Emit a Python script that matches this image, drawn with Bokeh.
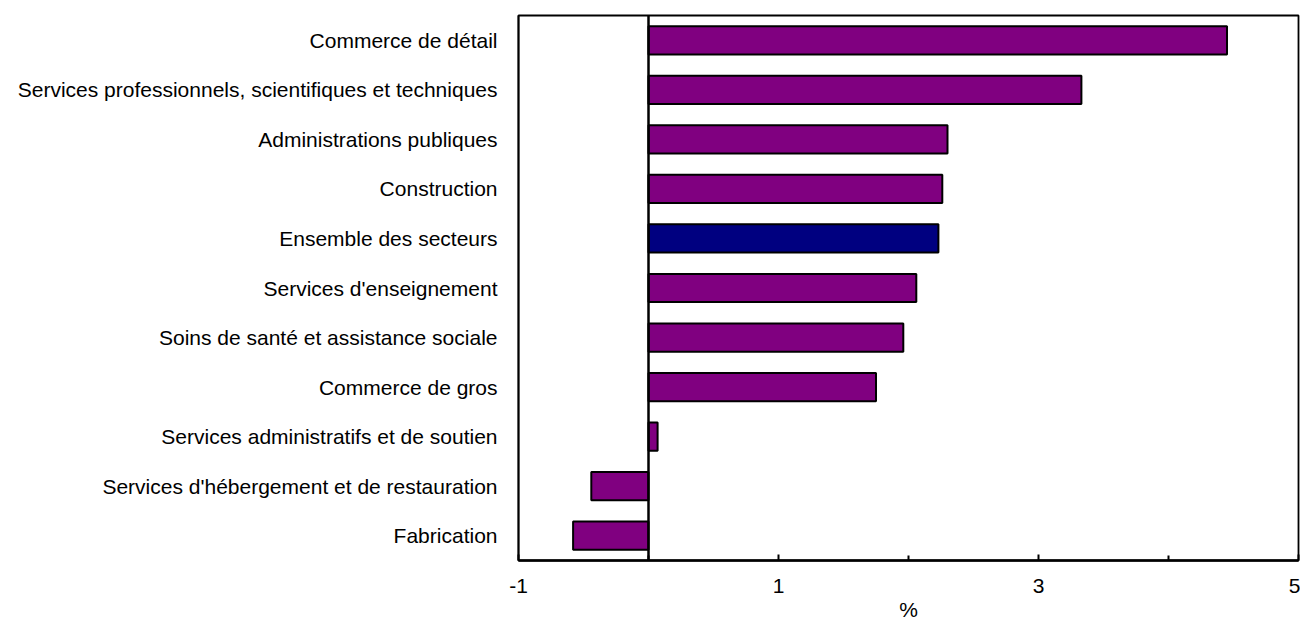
from bokeh.plotting import figure
from bokeh.models import FactorRange, Range1d, FixedTicker, Span, ColumnDataSource
from bokeh.embed import file_html
from bokeh.resources import INLINE

categories = [
    "Commerce de détail",
    "Services professionnels, scientifiques et techniques",
    "Administrations publiques",
    "Construction",
    "Ensemble des secteurs",
    "Services d'enseignement",
    "Soins de santé et assistance sociale",
    "Commerce de gros",
    "Services administratifs et de soutien",
    "Services d'hébergement et de restauration",
    "Fabrication",
]
values = [4.45, 3.33, 2.30, 2.26, 2.23, 2.06, 1.96, 1.75, 0.07, -0.44, -0.58]
colors = ["#800080", "#800080", "#800080", "#800080", "#000080", "#800080",
          "#800080", "#800080", "#800080", "#800080", "#800080"]
x_ticks = [-1, 1, 3, 5]
x_tick_labels = {-1: "-1", 1: "1", 3: "3", 5: "5"}
x_minor_ticks = [0, 2, 4]
x_title = "%"

FONT = "Liberation Sans"

src = ColumnDataSource(dict(cat=categories, val=values, col=colors))

p = figure(
    y_range=FactorRange(*reversed(categories), range_padding=0),
    x_range=Range1d(-1, 5),
    frame_width=780, frame_height=545,
    min_border_top=15, min_border_left=518, min_border_right=2, min_border_bottom=0,
    output_backend="svg", toolbar_location=None,
)
p.y_range.factor_padding = 0
p.y_range.range_padding = 0

p.hbar(y="cat", left=0, right="val", height=0.57, fill_color="col",
       line_color="black", line_width=2, source=src)

p.add_layout(Span(location=0, dimension="height", line_color="black", line_width=2.5))

p.grid.visible = False
p.outline_line_color = "black"
p.outline_line_width = 1.8
p.background_fill_color = "white"
p.border_fill_color = "white"

xa = p.xaxis[0]
xa.ticker = FixedTicker(ticks=x_ticks, minor_ticks=x_minor_ticks)
xa.major_label_overrides = x_tick_labels
xa.major_tick_in = 6
xa.major_tick_out = 0
xa.minor_tick_in = 5
xa.minor_tick_out = 0
xa.major_tick_line_width = 2
xa.minor_tick_line_width = 2
xa.axis_line_width = 2.5
xa.axis_line_color = "black"
xa.major_label_standoff = 18
xa.major_label_text_font = FONT
xa.major_label_text_font_size = "21px"
xa.major_label_text_color = "black"
xa.axis_label = x_title
xa.axis_label_text_font = FONT
xa.axis_label_text_font_size = "21px"
xa.axis_label_text_font_style = "normal"
xa.axis_label_text_color = "black"
xa.axis_label_standoff = 2

ya = p.yaxis[0]
ya.major_tick_line_color = None
ya.minor_tick_line_color = None
ya.axis_line_width = 1.8
ya.axis_line_color = "black"
ya.major_label_standoff = 15
ya.major_label_text_font = FONT
ya.major_label_text_font_size = "21px"
ya.major_label_text_color = "black"

open("out.html", "w").write(file_html(p, INLINE))
